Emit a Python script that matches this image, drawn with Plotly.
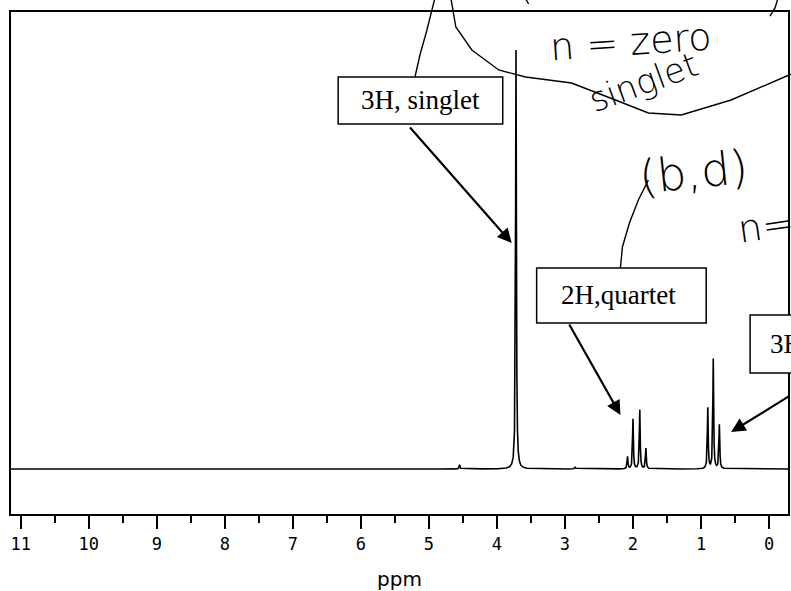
import numpy as np
import plotly.graph_objects as go

# ---- data ----
peak_ppm = [4.55, 3.72, 2.85, 2.08, 2.00, 1.90, 1.81, 0.90, 0.82, 0.73]
peak_height = [1.0, 100.0, 0.5, 2.9, 11.9, 14.1, 4.9, 14.5, 26.2, 10.5]
tick_values = [11, 10, 9, 8, 7, 6, 5, 4, 3, 2, 1, 0]
tick_labels = ["11", "10", "9", "8", "7", "6", "5", "4", "3", "2", "1", "0"]
minor_tick_values = [10.5, 9.5, 8.5, 7.5, 6.5, 5.5, 4.5, 3.5, 2.5, 1.5, 0.5]
box_labels = ["3H, singlet", "2H,quartet", "3H, triplet"]
notes = ["n = zero", "singlet", "(b,d)", "n="]

# ---- spectrum line (Lorentzian line shape for each read peak) ----
gamma = 0.007
ppm = np.arange(-0.30, 11.20, 0.0005)
intensity = np.zeros_like(ppm)
for p, h in zip(peak_ppm, peak_height):
    intensity += h / (1.0 + ((ppm - p) / gamma) ** 2)

W, H = 791, 591
L, R, T, B = 11, 1, 12, 77
x0, x1 = 11, 790
y0, y1 = 12, 514


def px(x):
    return (x - x0) / (x1 - x0)


def py(y):
    return (y1 - y) / (y1 - y0)


def path(points):
    return "M " + " L ".join(f"{px(a):.4f},{py(b):.4f}" for a, b in points)


fig = go.Figure()
fig.add_trace(go.Scatter(x=ppm, y=intensity, mode="lines",
                         line=dict(color="black", width=1.6),
                         hoverinfo="skip", showlegend=False))

shapes = []
# label boxes
for (bx0, by0, bx1, by1) in [(339, 77, 504, 124), (538, 268, 708, 323), (752, 315, 960, 373)]:
    shapes.append(dict(type="rect", xref="paper", yref="paper",
                       x0=px(bx0), x1=px(bx1), y0=py(by1), y1=py(by0),
                       line=dict(color="black", width=1.5), fillcolor="white", layer="above"))

# handwritten strokes
ink = dict(color="black", width=1.4)
strokes = [
    [(452, -2), (457, 27), (473, 50), (500, 70), (527, 77), (573, 83), (617, 100),
     (650, 113), (683, 115), (733, 100), (791, 75), (800, 72)],
    [(436, -2), (428, 30), (421, 55), (416, 77)],
    [(780, -2), (777, 8), (772, 16)],
    [(527, -1), (530, 4)],
    [(650, 180), (640, 200), (631, 223), (624, 247), (622, 268)],
]
for s in strokes:
    shapes.append(dict(type="path", xref="paper", yref="paper", path=path(s),
                       line=ink, layer="above"))

annotations = []
# box texts
serif = dict(family="Liberation Serif", size=27, color="black")
annotations.append(dict(xref="paper", yref="paper", x=px(421.5), y=py(100.5),
                        text=box_labels[0], showarrow=False, font=serif,
                        xanchor="center", yanchor="middle"))
annotations.append(dict(xref="paper", yref="paper", x=px(620), y=py(295.5),
                        text=box_labels[1], showarrow=False, font=serif,
                        xanchor="center", yanchor="middle"))
annotations.append(dict(xref="paper", yref="paper", x=px(770), y=py(344),
                        text=box_labels[2], showarrow=False, font=serif,
                        xanchor="left", yanchor="middle"))

# arrows (tip position, tail offset in pixels)
for (tx, ty, ax, ay) in [(513, 243, -103, -117), (622, 415, -52, -92), (733, 432, 62, -37)]:
    annotations.append(dict(xref="paper", yref="paper", x=px(tx), y=py(ty),
                            ax=ax, ay=ay, text="", showarrow=True,
                            arrowhead=2, arrowsize=1.3, arrowwidth=2.2,
                            arrowcolor="black", standoff=0))

# handwritten notes
hand = dict(family="DejaVu Sans", size=38, color="black", weight=200)
annotations.append(dict(xref="paper", yref="paper", x=px(632), y=py(42),
                        text=notes[0], showarrow=False, font=hand, textangle=-4,
                        xanchor="center", yanchor="middle"))
annotations.append(dict(xref="paper", yref="paper", x=px(645), y=py(82),
                        text=notes[1], showarrow=False,
                        font=dict(family="DejaVu Sans", size=34, color="black", weight=200),
                        textangle=-20, xanchor="center", yanchor="middle"))
annotations.append(dict(xref="paper", yref="paper", x=px(695), y=py(172),
                        text=notes[2], showarrow=False,
                        font=dict(family="DejaVu Sans", size=46, color="black", weight=200),
                        textangle=-6, xanchor="center", yanchor="middle"))
annotations.append(dict(xref="paper", yref="paper", x=px(735), y=py(226),
                        text=notes[3], showarrow=False, font=hand, textangle=-8,
                        xanchor="left", yanchor="middle"))

fig.update_layout(
    width=W, height=H,
    margin=dict(l=L, r=R, t=T, b=B, pad=0),
    paper_bgcolor="white", plot_bgcolor="white",
    shapes=shapes, annotations=annotations,
    xaxis=dict(range=[11.144, -0.279], showgrid=False, zeroline=False,
               showline=True, linecolor="black", linewidth=2, mirror=True,
               ticks="outside", ticklen=13, tickwidth=2, tickcolor="black",
               tickmode="array", tickvals=tick_values, ticktext=tick_labels,
               ticklabelstandoff=1,
               tickfont=dict(family="DejaVu Sans Mono", size=17, color="black"),
               minor=dict(tickmode="array", tickvals=minor_tick_values,
                          ticks="outside", ticklen=7, tickwidth=2, tickcolor="black"),
               title=dict(text="ppm", standoff=20,
                          font=dict(family="DejaVu Sans", size=20, color="black"))),
    yaxis=dict(range=[-10.74, 109.07], showgrid=False, zeroline=False,
               showline=True, linecolor="black", linewidth=2, mirror=True,
               showticklabels=False, ticks=""),
    showlegend=False,
)

fig.write_html("out.html", config={"displayModeBar": False},
               post_script="document.body.style.margin='0';document.body.style.overflow='hidden';")
